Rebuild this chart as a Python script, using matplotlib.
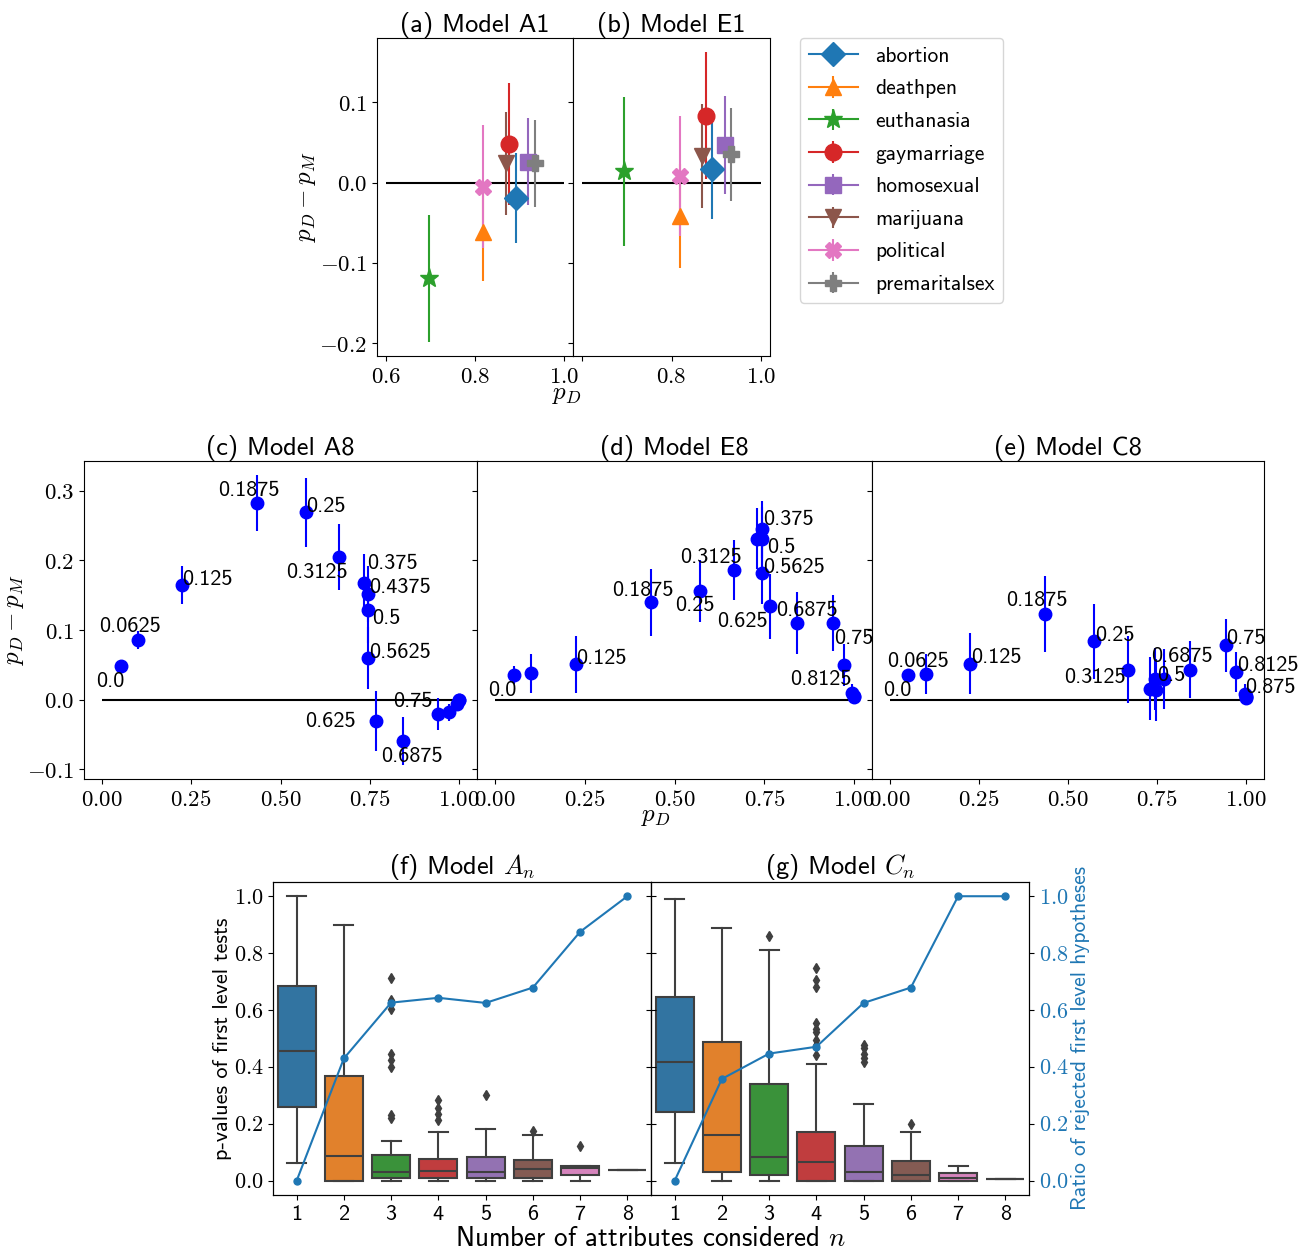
import numpy as np
import matplotlib
matplotlib.use('Agg')
import matplotlib.pyplot as plt
from matplotlib.ticker import MultipleLocator, FuncFormatter

plt.rcParams['font.family'] = ['cmss10', 'DejaVu Sans']
plt.rcParams['mathtext.fontset'] = 'cm'
plt.rcParams['axes.unicode_minus'] = False

# ---- top row: one attribute, models A1 / E1 ----
topics = ['abortion', 'deathpen', 'euthanasia', 'gaymarriage', 'homosexual',
          'marijuana', 'political', 'premaritalsex']
topic_markers = ['D', '^', '*', 'o', 's', 'v', 'X', 'P']
a1_pd = [0.892, 0.819, 0.697, 0.877, 0.920, 0.870, 0.819, 0.935]
a1_diff = [-0.019, -0.062, -0.119, 0.048, 0.026, 0.024, -0.005, 0.024]
a1_err = [0.056, 0.061, 0.079, 0.076, 0.054, 0.064, 0.077, 0.054]
e1_pd = [0.890, 0.818, 0.694, 0.876, 0.919, 0.869, 0.818, 0.934]
e1_diff = [0.017, -0.042, 0.014, 0.083, 0.047, 0.033, 0.008, 0.035]
e1_err = [0.063, 0.065, 0.093, 0.079, 0.061, 0.065, 0.075, 0.058]

# ---- middle row: eight attributes, thresholds 0..1 ----
c_pd = [0.054, 0.102, 0.225, 0.434, 0.572, 0.665, 0.733, 0.745, 0.746, 0.746,
        0.767, 0.842, 0.942, 0.972, 0.993, 1.0, 1.0]
c_diff = [0.048, 0.086, 0.165, 0.282, 0.269, 0.205, 0.167, 0.152, 0.129, 0.060,
          -0.031, -0.059, -0.020, -0.018, -0.006, -0.001, 0.0]
c_err = [0.004, 0.013, 0.027, 0.040, 0.049, 0.048, 0.042, 0.040, 0.048, 0.045,
         0.043, 0.034, 0.023, 0.012, 0.006, 0.003, 0.001]
c_labels = ['0.0', '0.0625', '0.125', '0.1875', '0.25', '0.3125', '0.375',
            '0.4375', '0.5', '0.5625', '0.625', '0.6875', '0.75']
c_lab_x = [-0.016, -0.007, 0.226, 0.326, 0.573, 0.517, 0.742, 0.748, 0.756,
           0.748, 0.568, 0.781, 0.814]
c_lab_y = [0.019, 0.097, 0.165, 0.292, 0.269, 0.175, 0.188, 0.153, 0.109,
           0.060, -0.039, -0.089, -0.011]

d_pd = [0.052, 0.101, 0.225, 0.434, 0.571, 0.666, 0.745, 0.730, 0.745, 0.745,
        0.767, 0.842, 0.942, 0.972, 0.993, 1.0, 1.0]
d_diff = [0.036, 0.038, 0.051, 0.140, 0.156, 0.186, 0.245, 0.231, 0.231, 0.182,
          0.134, 0.110, 0.110, 0.050, 0.010, 0.005, 0.004]
d_err = [0.013, 0.028, 0.041, 0.048, 0.045, 0.043, 0.041, 0.044, 0.045, 0.045,
         0.047, 0.045, 0.040, 0.030, 0.012, 0.006, 0.003]
d_labels = ['0.0', '0.125', '0.1875', '0.25', '0.3125', '0.375', '0.5',
            '0.5625', '0.625', '0.6875', '0.75', '0.8125']
d_lab_x = [-0.019, 0.226, 0.326, 0.503, 0.517, 0.746, 0.758, 0.748, 0.618,
           0.784, 0.944, 0.823]
d_lab_y = [0.005, 0.052, 0.149, 0.127, 0.196, 0.251, 0.210, 0.182, 0.105,
           0.120, 0.080, 0.021]

e_pd = [0.051, 0.102, 0.225, 0.435, 0.574, 0.668, 0.731, 0.743, 0.747, 0.768,
        0.841, 0.943, 0.972, 0.997, 1.0, 1.0, 1.0]
e_diff = [0.036, 0.037, 0.052, 0.123, 0.084, 0.043, 0.016, 0.030, 0.014, 0.030,
          0.043, 0.078, 0.040, 0.008, 0.005, 0.004, 0.003]
e_err = [0.004, 0.029, 0.044, 0.054, 0.054, 0.048, 0.045, 0.045, 0.045, 0.043,
         0.041, 0.038, 0.029, 0.014, 0.006, 0.004, 0.002]
e_labels = ['0.0', '0.0625', '0.125', '0.1875', '0.25', '0.3125', '0.6875',
            '0.5', '0.75', '0.8125', '0.875']
e_lab_x = [-0.019, -0.007, 0.227, 0.327, 0.575, 0.488, 0.734, 0.750, 0.944,
           0.974, 0.997]
e_lab_y = [0.006, 0.047, 0.053, 0.134, 0.085, 0.024, 0.054, 0.027, 0.080,
           0.042, 0.010]

# ---- bottom row: boxplots of p-values per n ----
n_attr = ['1', '2', '3', '4', '5', '6', '7', '8']
f_whislo = [0.061, 0.0, 0.0, 0.0, 0.0, 0.0, 0.0, 0.038]
f_q1 = [0.258, 0.0, 0.011, 0.011, 0.011, 0.011, 0.020, 0.038]
f_med = [0.455, 0.087, 0.032, 0.035, 0.030, 0.042, 0.045, 0.038]
f_q3 = [0.685, 0.369, 0.091, 0.078, 0.084, 0.073, 0.052, 0.038]
f_whishi = [1.0, 0.899, 0.140, 0.171, 0.181, 0.160, 0.052, 0.038]
f_fliers = [[], [], [0.711, 0.635, 0.602, 0.445, 0.424, 0.40, 0.231, 0.219],
            [0.283, 0.254, 0.236, 0.213], [0.301], [0.174], [0.122], []]
f_ratio = [0.0, 0.43, 0.626, 0.643, 0.625, 0.679, 0.875, 1.0]

g_whislo = [0.061, 0.0, 0.0, 0.0, 0.0, 0.0, 0.0, 0.006]
g_q1 = [0.240, 0.030, 0.022, 0.0, 0.0, 0.0, 0.0, 0.006]
g_med = [0.416, 0.160, 0.082, 0.067, 0.032, 0.022, 0.011, 0.006]
g_q3 = [0.646, 0.487, 0.340, 0.170, 0.123, 0.070, 0.029, 0.006]
g_whishi = [0.989, 0.890, 0.810, 0.411, 0.270, 0.171, 0.053, 0.006]
g_fliers = [[], [], [0.86], [0.749, 0.705, 0.681, 0.553, 0.535, 0.523, 0.494, 0.477, 0.441],
            [0.477, 0.465, 0.447, 0.430, 0.418], [0.201], [], []]
g_ratio = [0.0, 0.358, 0.447, 0.471, 0.625, 0.679, 1.0, 1.0]

box_colors = ['#3274a1', '#e1812c', '#3a923a', '#c03d3e', '#9372b2',
              '#845b53', '#d684bd', '#7f7f7f']
tab10 = plt.rcParams['axes.prop_cycle'].by_key()['color']

TITLE = 19
TICK = 16.5


def math_fmt(dec):
    def f(v, pos):
        v = 0.0 if abs(v) < 1e-9 else v
        return '$%.*f$' % (dec, v)
    return FuncFormatter(f)


fig = plt.figure(figsize=(13.11, 12.53), dpi=100)
W, H = 1311.0, 1253.0


def rect(x0, y0, x1, y1):
    return [x0 / W, 1 - y1 / H, (x1 - x0) / W, (y1 - y0) / H]


# top row
ax_a = fig.add_axes(rect(377, 38, 573, 356))
ax_b = fig.add_axes(rect(573, 38, 770, 356), sharey=ax_a)
handles = []
for ax, pd_, df_, er_, title in [(ax_a, a1_pd, a1_diff, a1_err, '(a) Model A1'),
                                 (ax_b, e1_pd, e1_diff, e1_err, '(b) Model E1')]:
    ax.hlines(0, 0.6, 1.0, color='black', lw=1.5)
    hs = []
    for i in range(len(topics)):
        h = ax.errorbar([pd_[i]], [df_[i]], yerr=[er_[i]], marker=topic_markers[i],
                        color=tab10[i], ms=12 if topic_markers[i] != '*' else 14,
                        elinewidth=1.5, lw=1.5, label=topics[i])
        hs.append(h)
    handles = hs
    ax.set_title(title, fontsize=TITLE, pad=4)
    ax.xaxis.set_major_locator(MultipleLocator(0.2))
    ax.yaxis.set_major_locator(MultipleLocator(0.1))
    ax.xaxis.set_major_formatter(math_fmt(1))
    ax.yaxis.set_major_formatter(math_fmt(1))
    ax.tick_params(labelsize=TICK)
ax_b.tick_params(labelleft=False)
ax_b.set_xticks([0.6, 0.8, 1.0])
ax_b.set_xticklabels(['', '$0.8$', '$1.0$'])
ax_a.set_ylabel('$p_D - p_M$', fontsize=18, labelpad=1)
fig.text(567 / W, 1 - 395 / H, '$p_D$', fontsize=18, ha='center', va='center')
fig.legend(handles, topics, loc='upper left', bbox_to_anchor=(800 / W, 1 - 38 / H),
           borderaxespad=0, fontsize=15.5, handlelength=2.3, labelspacing=0.63)

# middle row
ax_c = fig.add_axes(rect(84, 461, 477, 779))
ax_d = fig.add_axes(rect(477, 461, 872, 779), sharey=ax_c)
ax_e = fig.add_axes(rect(872, 461, 1264, 779), sharey=ax_c)
mid = [(ax_c, c_pd, c_diff, c_err, c_labels, c_lab_x, c_lab_y, '(c) Model A8'),
       (ax_d, d_pd, d_diff, d_err, d_labels, d_lab_x, d_lab_y, '(d) Model E8'),
       (ax_e, e_pd, e_diff, e_err, e_labels, e_lab_x, e_lab_y, '(e) Model C8')]
for ax, pd_, df_, er_, labs, lx, ly, title in mid:
    ax.hlines(0, 0, 1, color='black', lw=1.5)
    ax.errorbar(pd_, df_, yerr=er_, fmt='o', color='blue', ms=9, elinewidth=1.5)
    for t, x, y in zip(labs, lx, ly):
        ax.text(x, y, t, fontsize=16)
    ax.set_title(title, fontsize=TITLE, pad=4)
    ax.xaxis.set_major_locator(MultipleLocator(0.25))
    ax.yaxis.set_major_locator(MultipleLocator(0.1))
    ax.xaxis.set_major_formatter(math_fmt(2))
    ax.yaxis.set_major_formatter(math_fmt(1))
    ax.tick_params(labelsize=TICK)
ax_d.tick_params(labelleft=False)
ax_e.tick_params(labelleft=False)
ax_c.set_ylabel('$p_D - p_M$', fontsize=18, labelpad=1)
fig.text(656 / W, 1 - 817 / H, '$p_D$', fontsize=18, ha='center', va='center')

# bottom row
ax_f = fig.add_axes(rect(273, 882, 651, 1195))
ax_g = fig.add_axes(rect(651, 882, 1029, 1195), sharey=ax_f)
bottom = [(ax_f, f_whislo, f_q1, f_med, f_q3, f_whishi, f_fliers, f_ratio, '(f) Model $A_n$'),
          (ax_g, g_whislo, g_q1, g_med, g_q3, g_whishi, g_fliers, g_ratio, '(g) Model $C_n$')]
twins = []
for ax, wl, q1, md, q3, wh, fl, ratio, title in bottom:
    stats = []
    for i in range(len(n_attr)):
        stats.append(dict(whislo=wl[i], q1=q1[i], med=md[i], q3=q3[i],
                          whishi=wh[i], fliers=fl[i]))
    lc = '#3f3f3f'
    bp = ax.bxp(stats, positions=range(len(n_attr)), widths=0.8, patch_artist=True,
                boxprops=dict(edgecolor=lc, linewidth=1.5),
                medianprops=dict(color=lc, linewidth=1.5),
                whiskerprops=dict(color=lc, linewidth=1.5),
                capprops=dict(color=lc, linewidth=1.5),
                flierprops=dict(marker='d', markerfacecolor=lc, markeredgecolor=lc,
                                markersize=5))
    for patch, col in zip(bp['boxes'], box_colors):
        patch.set_facecolor(col)
    ax.set_xlim(-0.5, len(n_attr) - 0.5)
    ax.set_ylim(-0.05, 1.05)
    ax.set_xticks(range(len(n_attr)))
    ax.set_xticklabels(n_attr)
    ax.yaxis.set_major_locator(MultipleLocator(0.2))
    ax.yaxis.set_major_formatter(math_fmt(1))
    ax.tick_params(labelsize=16)
    ax.set_title(title, fontsize=TITLE, pad=4)
    tw = ax.twinx()
    tw.plot(range(len(n_attr)), ratio, marker='o', color='#1f77b4', ms=5, lw=1.5)
    tw.set_ylim(-0.05, 1.05)
    tw.yaxis.set_major_locator(MultipleLocator(0.2))
    tw.yaxis.set_major_formatter(math_fmt(1))
    tw.tick_params(labelsize=16, labelcolor='#1f77b4')
    twins.append(tw)
ax_g.tick_params(labelleft=False)
twins[0].tick_params(labelright=False)
ax_f.set_ylabel('p-values of first level tests', fontsize=16, labelpad=1)
twins[1].set_ylabel('Ratio of rejected first level hypotheses', fontsize=15.5,
                    color='#1f77b4', labelpad=2)
fig.text(651 / W, 1 - 1238 / H, 'Number of attributes considered $n$', fontsize=19.5,
         ha='center', va='center')

fig.savefig('out.png', dpi=100)
